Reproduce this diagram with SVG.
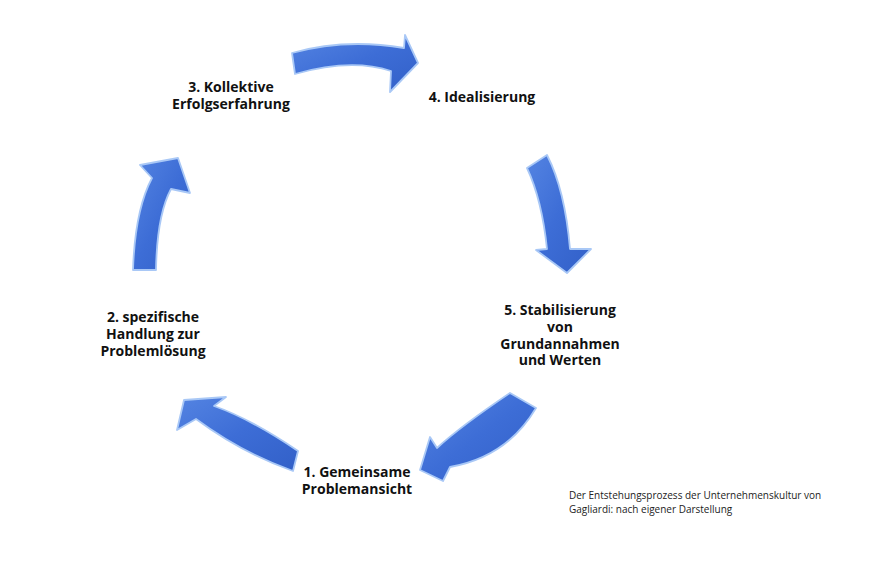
<svg xmlns="http://www.w3.org/2000/svg" width="872" height="579" viewBox="0 0 872 579">
<defs>
<linearGradient id="blue" x1="0" y1="0" x2="1" y2="1">
<stop offset="0" stop-color="#5484e2"/>
<stop offset="0.5" stop-color="#3d6dd6"/>
<stop offset="1" stop-color="#3260c8"/>
</linearGradient>
<style>
.arrow{fill:url(#blue);stroke:#a9c8f6;stroke-width:1.8;stroke-linejoin:round}
.lbl{font-family:"Open Sans","DejaVu Sans",sans-serif;font-weight:bold;font-size:14px;fill:#111;text-anchor:middle}
.cap{font-family:"Open Sans","DejaVu Sans",sans-serif;font-size:10px;fill:#222}
</style>
</defs>
<rect width="872" height="579" fill="#ffffff"/>
<g id="connectors">
<path class="arrow" d="M292,53 Q345,38 404,48 L405,35 L418,63 L390,92 L391,71 Q351,58 295,74 Z"/>
<path class="arrow" d="M527,168 L547,155 Q565,190 570,249 L591,249 L567,273 L536,250 L547,249 Q542,200 527,168 Z"/>
<path class="arrow" d="M510,393 L536,408 Q507,457 450,467 L443,481 L420,470 L430,437 L437,448 Q461,426 510,393 Z"/>
<path class="arrow" d="M298,451 Q251,419 214,406 L226,397 L184,400 L177,430 L196,419 Q242,453 293,471 Z"/>
<path class="arrow" d="M133,270 Q135,210 152,178 L140,165 L178,158 L190,193 L171,189 Q157,215 156,270 Z"/>
</g>
<g id="node1">
<text class="lbl" x="357" y="477"><tspan x="357">1. Gemeinsame</tspan><tspan x="357" dy="17">Problemansicht</tspan></text>
</g>
<g id="node2">
<text class="lbl" x="153" y="322"><tspan x="153">2. spezifische</tspan><tspan x="153" dy="17">Handlung zur</tspan><tspan x="153" dy="17">Problemlösung</tspan></text>
</g>
<g id="node3">
<text class="lbl" x="231" y="92"><tspan x="231">3. Kollektive</tspan><tspan x="231" dy="17">Erfolgserfahrung</tspan></text>
</g>
<g id="node4">
<text class="lbl" x="482" y="102">4. Idealisierung</text>
</g>
<g id="node5">
<text class="lbl" x="560" y="315"><tspan x="560">5. Stabilisierung</tspan><tspan x="560" dy="17">von</tspan><tspan x="560" dy="16.5">Grundannahmen</tspan><tspan x="560" dy="16.5">und Werten</tspan></text>
</g>
<g id="caption">
<text class="cap" x="569" y="499"><tspan x="569">Der Entstehungsprozess der Unternehmenskultur von</tspan><tspan x="569" dy="14">Gagliardi: nach eigener Darstellung</tspan></text>
</g>
</svg>
